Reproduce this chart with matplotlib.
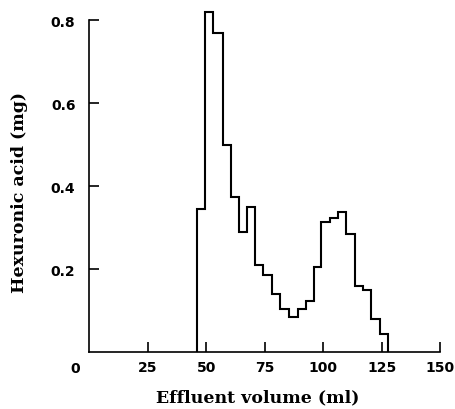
import matplotlib.pyplot as plt

# Volumul efluentului (ml) - marginile fractiunilor
margini = [46.2, 49.4, 53.0, 57.0, 60.6, 64.0, 67.5, 70.8, 74.4, 78.0, 81.5, 85.5,
           89.3, 92.6, 95.9, 99.3, 102.9, 106.4, 109.7, 113.5, 117.1, 120.4, 124.2, 127.8]
# Acid hexuronic (mg) in fiecare fractiune
acid = [0.345, 0.82, 0.768, 0.50, 0.373, 0.29, 0.349, 0.21, 0.186, 0.14, 0.104, 0.084,
        0.104, 0.124, 0.204, 0.3125, 0.323, 0.337, 0.284, 0.16, 0.149, 0.08, 0.043]

x_ticks = [25, 50, 75, 100, 125, 150]
y_ticks = [0.2, 0.4, 0.6, 0.8]

fig = plt.figure(figsize=(4.55, 4.10), dpi=100)
ax = fig.add_axes([0.1963, 0.139, 0.7708, 0.850])

ax.stairs(acid, margini, baseline=0, color='black', lw=1.5, fill=False)

ax.set_xlim(0, 150)
ax.set_ylim(0, 0.84)
ax.spines['top'].set_visible(False)
ax.spines['right'].set_visible(False)
ax.spines['left'].set_bounds(0, 0.8)
for s in ('left', 'bottom'):
    ax.spines[s].set_linewidth(1.2)

ax.set_xticks(x_ticks)
ax.set_xticklabels([str(t) for t in x_ticks])
ax.set_yticks(y_ticks)
ax.set_yticklabels([f'{t:.1f}' for t in y_ticks])
ax.tick_params(direction='in', length=7, width=1.2, labelsize=10)
ax.tick_params(axis='x', pad=6)
ax.tick_params(axis='y', pad=10)
for lab in ax.get_xticklabels() + ax.get_yticklabels():
    lab.set_fontweight('bold')
    lab.set_family('DejaVu Sans')

ax.text(-4, -0.022, '0', ha='right', va='top', fontsize=10, fontweight='bold',
        family='DejaVu Sans')

ax.set_xlabel('Effluent volume (ml)', fontsize=12.5, fontweight='bold',
              family='DejaVu Serif')
ax.set_ylabel('Hexuronic acid (mg)', fontsize=12.5, fontweight='bold',
              family='DejaVu Serif')
ax.xaxis.set_label_coords(0.48, -0.128, transform=ax.transAxes)
ax.yaxis.set_label_coords(-0.2, 0.46, transform=ax.transAxes)
ax.xaxis.label.set_va('center')
ax.yaxis.label.set_va('center')

plt.savefig('out.png', dpi=100)
